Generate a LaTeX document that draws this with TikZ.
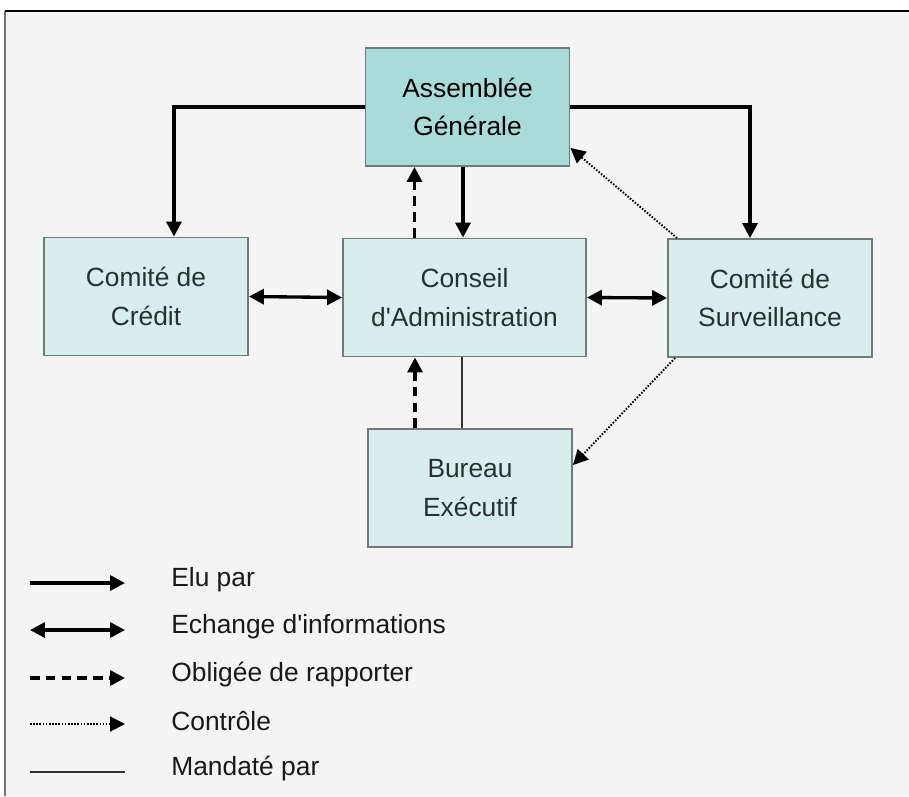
\documentclass[tikz,border=0pt]{standalone}
\usepackage{fontspec}
\setmainfont{Liberation Sans}
\usepackage{tikz}
\usetikzlibrary{arrows.meta,calc}
\definecolor{fond}{HTML}{F4F4F4}
\definecolor{tealfort}{HTML}{A9DCD9}
\definecolor{tealpale}{HTML}{D8EEEC}
\definecolor{bord}{HTML}{6F7A7A}
\definecolor{texte}{HTML}{263232}

\begin{document}
\begin{tikzpicture}[x=0.02cm,y=-0.02cm,
		boite/.style={draw=bord,line width=1.1pt,fill=tealpale,text=texte,align=center,
			minimum width=4.08cm,minimum height=2.36cm,inner sep=0pt,
			font=\fontsize{15}{22}\selectfont},
		elu/.style={line width=1.9pt,-{Triangle[length=8.5pt,width=8.5pt]}},
		echange/.style={line width=1.9pt,{Triangle[length=8.5pt,width=8.5pt]}-{Triangle[length=8.5pt,width=8.5pt]}},
		rapport/.style={line width=1.9pt,dash pattern=on 5.5pt off 3.5pt,-{Triangle[length=8.5pt,width=8.5pt]}},
		controle/.style={line width=1.1pt,dash pattern=on 0.9pt off 0.9pt,-{Triangle[length=8.5pt,width=8.5pt]}},
		mandat/.style={line width=0.7pt,black!80},
		legende/.style={anchor=west,inner sep=0pt,font=\fontsize{15}{18}\selectfont,text=black!90}]
	\useasboundingbox (0,0) rectangle (909,796);
	\fill[fond] (5,11) rectangle (909,796);
	\draw[black!55,line width=1.1pt] (5,796) -- (5,11);
	\draw[black,line width=0.8pt] (5,11) -- (909,11);

	% organes
	\node[boite,fill=tealfort,text=black] (ag) at (467.5,107) {Assemblée\\Générale};
	\node[boite] (credit) at (146,296.5) {Comité de\\Crédit};
	\node[boite,minimum width=4.86cm] (conseil) at (464.5,297.5) {Conseil\\d\textquotesingle Administration};
	\node[boite] (surv) at (770,298) {Comité de\\Surveillance};
	\node[boite] (bureau) at (470,488) {Bureau\\Exécutif};

	% liens
	\draw[elu] (ag.west) -| ([xshift=0.56cm]credit.north);
	\draw[elu] (ag.east) -| ([xshift=-0.4cm]surv.north);
	\draw[elu] ([xshift=-0.09cm]ag.south) -- ([xshift=-0.09cm]ag.south |- conseil.north);
	\draw[rapport] ([xshift=-1cm]conseil.north) -- ([xshift=-1cm]conseil.north |- ag.south);
	\draw[echange] (credit.east) -- (conseil.west);
	\draw[echange] (conseil.east) -- (surv.west);
	\draw[controle] ([xshift=0.2cm]surv.north west) -- ([yshift=0.38cm]ag.south east);
	\draw[mandat] ([xshift=-0.05cm]conseil.south) -- ([xshift=-0.05cm]conseil.south |- bureau.north);
	\draw[rapport] ([xshift=-1.1cm]bureau.north) -- ([xshift=-1.1cm]bureau.north |- conseil.south);
	\draw[controle] ([xshift=0.16cm]surv.south west) -- ([yshift=0.46cm]bureau.east);

	% legende
	\foreach \i/\y/\sty/\txt in {1/583/elu/Elu par,
			2/630/echange/Echange d\textquotesingle informations,
			3/678/rapport/Obligée de rapporter,
			4/724/controle/Contrôle,
			5/772/mandat/Mandaté par}{
		\coordinate (la\i) at (30,\y);
		\coordinate (lb\i) at (125,\y);
		\node[legende] (lt\i) at (171,\y-3) {\txt};
		\draw[\sty] (la\i) -- (lb\i);
	}
\end{tikzpicture}
\end{document}
